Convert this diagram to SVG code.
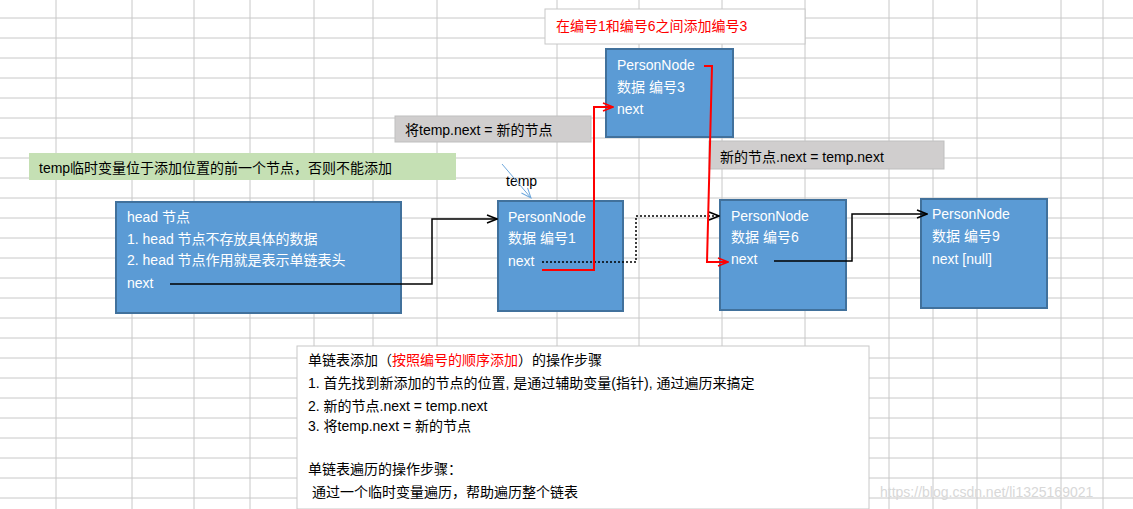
<svg xmlns="http://www.w3.org/2000/svg" width="1133" height="509" viewBox="0 0 1133 509">
<style>
text{font-family:"Liberation Sans","Noto Sans CJK SC",sans-serif;font-size:14px}
.g line{stroke:#c8c8c8;stroke-width:1}
.node rect{fill:#5b9bd5;stroke:#41719c;stroke-width:2}
.node text{fill:#fff}
.lbl{fill:#000}
</style>
<defs>
<marker id="ab" markerWidth="12" markerHeight="10" refX="11" refY="5" orient="auto" markerUnits="userSpaceOnUse"><path d="M1,1 L11,5 L1,9" fill="none" stroke="#000" stroke-width="1.5"/></marker>
<marker id="ar" markerWidth="12" markerHeight="10" refX="11" refY="5" orient="auto" markerUnits="userSpaceOnUse"><path d="M1,1 L11,5 L1,9" fill="none" stroke="#f00" stroke-width="1.5"/></marker>
<marker id="abl" markerWidth="12" markerHeight="10" refX="11" refY="5" orient="auto" markerUnits="userSpaceOnUse"><path d="M1,1 L11,5 L1,9" fill="none" stroke="#6fa8dc" stroke-width="1"/></marker>
</defs>
<rect width="1133" height="509" fill="#fff"/>
<g class="g">
<line x1="0" y1="18" x2="1133" y2="18"/><line x1="0" y1="38" x2="1133" y2="38"/><line x1="0" y1="58" x2="1133" y2="58"/><line x1="0" y1="78" x2="1133" y2="78"/><line x1="0" y1="98" x2="1133" y2="98"/><line x1="0" y1="118" x2="1133" y2="118"/><line x1="0" y1="138" x2="1133" y2="138"/><line x1="0" y1="158" x2="1133" y2="158"/><line x1="0" y1="178" x2="1133" y2="178"/><line x1="0" y1="198" x2="1133" y2="198"/><line x1="0" y1="218" x2="1133" y2="218"/><line x1="0" y1="238" x2="1133" y2="238"/><line x1="0" y1="258" x2="1133" y2="258"/><line x1="0" y1="278" x2="1133" y2="278"/><line x1="0" y1="298" x2="1133" y2="298"/><line x1="0" y1="318" x2="1133" y2="318"/><line x1="0" y1="338" x2="1133" y2="338"/><line x1="0" y1="358" x2="1133" y2="358"/><line x1="0" y1="378" x2="1133" y2="378"/><line x1="0" y1="398" x2="1133" y2="398"/><line x1="0" y1="418" x2="1133" y2="418"/><line x1="0" y1="438" x2="1133" y2="438"/><line x1="0" y1="458" x2="1133" y2="458"/><line x1="0" y1="478" x2="1133" y2="478"/><line x1="0" y1="498" x2="1133" y2="498"/>
<line x1="56" y1="0" x2="56" y2="509"/><line x1="132" y1="0" x2="132" y2="509"/><line x1="194" y1="0" x2="194" y2="509"/><line x1="250" y1="0" x2="250" y2="509"/><line x1="314" y1="0" x2="314" y2="509"/><line x1="373" y1="0" x2="373" y2="509"/><line x1="437" y1="0" x2="437" y2="509"/><line x1="557" y1="0" x2="557" y2="509"/><line x1="639" y1="0" x2="639" y2="509"/><line x1="722" y1="0" x2="722" y2="509"/><line x1="805" y1="0" x2="805" y2="509"/><line x1="889" y1="0" x2="889" y2="509"/><line x1="933" y1="0" x2="933" y2="509"/><line x1="977" y1="0" x2="977" y2="509"/><line x1="1061" y1="0" x2="1061" y2="509"/><line x1="1103" y1="0" x2="1103" y2="509"/>
</g>
<g id="title"><rect x="545" y="9" width="260" height="35" fill="#fff" stroke="#c8c8c8"/><text x="556" y="31" fill="#f00">在编号1和编号6之间添加编号3</text></g>
<g id="lbl-set-next"><rect x="395" y="116" width="196" height="26" fill="#d0cece" stroke="#bfbfbf"/><text x="405" y="135" class="lbl">将temp.next = 新的节点</text></g>
<g id="lbl-new-next"><rect x="709" y="141" width="235" height="28" fill="#d0cece" stroke="#bfbfbf"/><text x="720" y="162" class="lbl">新的节点.next = temp.next</text></g>
<g id="lbl-temp-note"><rect x="29" y="153" width="427" height="27" fill="#c5e0b4"/><text x="39" y="173" class="lbl">temp临时变量位于添加位置的前一个节点，否则不能添加</text></g>
<g id="temp-label"><text x="506" y="186" class="lbl">temp</text></g>
<g id="head" class="node"><rect x="116" y="202" width="285" height="111"/><text x="127" y="222">head 节点</text><text x="127" y="244">1. head 节点不存放具体的数据</text><text x="127" y="265">2. head 节点作用就是表示单链表头</text><text x="127" y="288">next</text></g>
<g id="n1" class="node"><rect x="498" y="201" width="125" height="110"/><text x="508" y="222">PersonNode</text><text x="508" y="243">数据 编号1</text><text x="508" y="266">next</text></g>
<g id="n3" class="node"><rect x="606" y="49" width="127" height="88"/><text x="617" y="70">PersonNode</text><text x="617" y="92">数据 编号3</text><text x="617" y="114">next</text></g>
<g id="n6" class="node"><rect x="720" y="200" width="126" height="110"/><text x="731" y="221">PersonNode</text><text x="731" y="242">数据 编号6</text><text x="731" y="264">next</text></g>
<g id="n9" class="node"><rect x="921" y="199" width="126" height="109"/><text x="932" y="219">PersonNode</text><text x="932" y="241">数据 编号9</text><text x="932" y="264">next [null]</text></g>
<g id="steps"><rect x="297" y="346" width="572" height="163" fill="#fff" stroke="#c8c8c8"/>
<text x="308" y="365" class="lbl">单链表添加（<tspan fill="#f00">按照编号的顺序添加</tspan>）的操作步骤</text>
<text x="308" y="388" class="lbl">1. 首先找到新添加的节点的位置, 是通过辅助变量(指针), 通过遍历来搞定</text>
<text x="308" y="411" class="lbl">2. 新的节点.next = temp.next</text>
<text x="308" y="431" class="lbl">3. 将temp.next = 新的节点</text>
<text x="308" y="474" class="lbl">单链表遍历的操作步骤：</text>
<text x="312" y="497" class="lbl">通过一个临时变量遍历，帮助遍历整个链表</text>
</g>
<text x="880" y="497" fill="#d8d8d8" style="font-size:14px">https://blog.csdn.net/li1325169021</text>
<g id="connectors" fill="none">
<path d="M502,164 L531,198" stroke="#6fa8dc" stroke-width="1" marker-end="url(#abl)"/>
<path d="M170,284 H432 V219 H497" stroke="#000" stroke-width="1.5" marker-end="url(#ab)"/>
<path d="M542,262 H636 V216 H719" stroke="#000" stroke-width="1.5" stroke-dasharray="2,2" marker-end="url(#ab)"/>
<path d="M542,270 H594 V107 H613" stroke="#f00" stroke-width="2" marker-end="url(#ar)"/>
<path d="M704,66 H712 L707,262 H728" stroke="#f00" stroke-width="2" marker-end="url(#ar)"/>
<path d="M774,261 H852 V214 H927" stroke="#000" stroke-width="1.5" marker-end="url(#ab)"/>
</g>
</svg>
